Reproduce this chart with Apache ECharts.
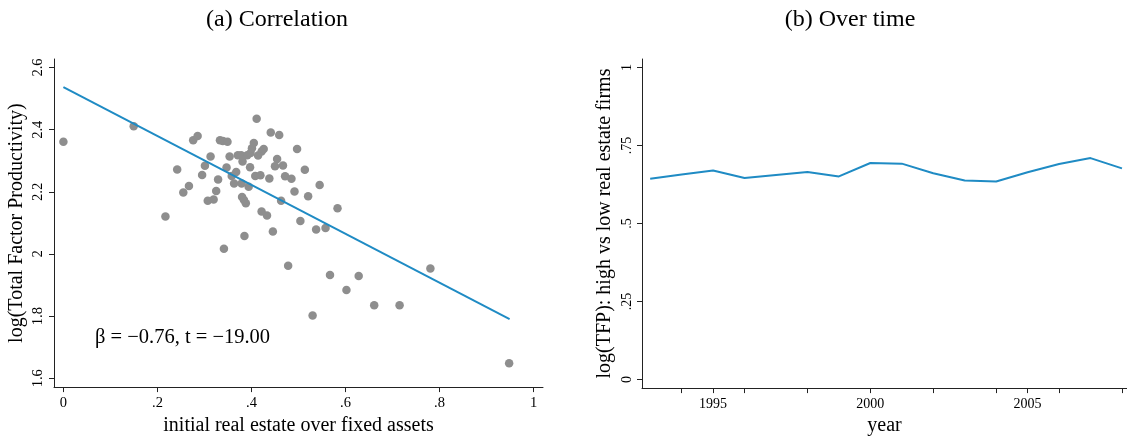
<!DOCTYPE html>
<html>
<head>
<meta charset="utf-8">
<script src="https://cdn.jsdelivr.net/npm/echarts@6/dist/echarts.min.js"></script>
<style>
html,body{margin:0;padding:0;background:#fff;}
#chart{width:1127px;height:441px;}
</style>
</head>
<body>
<div id="chart"></div>
<script>
// ---- Data: panel (a) ----
const shareX = [0, 0.1495, 0.217, 0.242, 0.255, 0.267, 0.276, 0.2855, 0.295, 0.301,
  0.307, 0.313, 0.3195, 0.325, 0.329, 0.333, 0.339, 0.349, 0.347, 0.3535,
  0.358, 0.363, 0.3675, 0.3414, 0.371, 0.378, 0.380, 0.384, 0.388, 0.394,
  0.397, 0.381, 0.379, 0.391, 0.398, 0.401, 0.405, 0.411, 0.441, 0.459,
  0.426, 0.4215, 0.414, 0.497, 0.4545, 0.450, 0.467, 0.5135, 0.408, 0.419,
  0.438, 0.4715, 0.485, 0.545, 0.4915, 0.5205, 0.463, 0.583, 0.4215, 0.433,
  0.504, 0.5375, 0.5575, 0.4455, 0.385, 0.478, 0.567, 0.628, 0.602, 0.530,
  0.661, 0.715, 0.7805, 0.948];
const logTFP = [2.361, 2.411, 2.121, 2.272, 2.198, 2.219, 2.366, 2.380, 2.254, 2.284,
  2.171, 2.314, 2.175, 2.203, 2.240, 2.366, 2.364, 2.361, 2.278, 2.314,
  2.251, 2.227, 2.264, 2.017, 2.318, 2.318, 2.183, 2.174, 2.163, 2.216,
  2.279, 2.298, 2.227, 2.318, 2.325, 2.340, 2.357, 2.435, 2.391, 2.383,
  2.338, 2.330, 2.317, 2.338, 2.306, 2.282, 2.285, 2.271, 2.251, 2.253,
  2.243, 2.250, 2.242, 2.222, 2.201, 2.186, 2.171, 2.147, 2.137, 2.124,
  2.106, 2.079, 2.084, 2.072, 2.058, 1.962, 1.932, 1.929, 1.884, 1.802,
  1.835, 1.835, 1.953, 1.648];
const fitX = [0, 0.949];
const fitY = [2.537, 1.790];
const leftXTicks = [0, 0.2, 0.4, 0.6, 0.8, 1];
const leftYTicks = [1.6, 1.8, 2.0, 2.2, 2.4, 2.6];
const annotation = "\u03B2 = \u22120.76, t = \u221219.00";

// ---- Data: panel (b) ----
const years = [1993, 1994, 1995, 1996, 1997, 1998, 1999, 2000, 2001, 2002, 2003, 2004, 2005, 2006, 2007, 2008];
const tfpGap = [0.6435, 0.657, 0.670, 0.646, 0.656, 0.665, 0.651, 0.694, 0.692, 0.6615, 0.638, 0.635, 0.6646, 0.691, 0.7098, 0.677];
const rightXLabels = [1995, 2000, 2005];
const rightXTicks = [1994, 1995, 1996, 1998, 2000, 2002, 2004, 2005, 2006, 2008];
const rightYTicks = [0, 0.25, 0.5, 0.75, 1];

const FONT = "Liberation Serif";
const AXIS_COLOR = "#222";
const BLUE = "#1f8bc4";
const GRAY = "#8e8e8e";

function fmt(v) {
  let s = String(Math.round(v * 100) / 100);
  if (s.startsWith("0.")) s = s.slice(1);
  return s;
}

const chart = echarts.init(document.getElementById('chart'), null, {renderer: 'canvas'});

const axisLine = {show: true, onZero: false, lineStyle: {color: AXIS_COLOR, width: 1}};
const tickStyle = {lineStyle: {color: AXIS_COLOR, width: 1}, length: 5, inside: false};
const nameStyle = {fontFamily: FONT, fontSize: 20, color: '#000'};

const option = {
  animation: false,
  backgroundColor: '#fff',
  title: [
    {text: '(a) Correlation', left: 272, top: 3, textAlign: 'center',
      textStyle: {fontFamily: FONT, fontSize: 24, fontWeight: 'normal', color: '#000'}},
    {text: '(b) Over time', left: 845, top: 3, textAlign: 'center',
      textStyle: {fontFamily: FONT, fontSize: 24, fontWeight: 'normal', color: '#000'}}
  ],
  grid: [
    {left: 54, top: 59, width: 489, height: 334, containLabel: false},
    {left: 642, top: 59, width: 485, height: 334, containLabel: false}
  ],
  xAxis: [
    {type: 'value', gridIndex: 0, min: -0.02, max: 1.02,
      name: 'initial real estate over fixed assets', nameLocation: 'middle', nameGap: 26,
      nameTextStyle: nameStyle,
      axisLine: axisLine,
      axisTick: Object.assign({customValues: leftXTicks}, tickStyle),
      axisLabel: {customValues: leftXTicks, formatter: fmt, fontFamily: FONT, fontSize: 14.5, color: '#000', margin: 9},
      splitLine: {show: false}},
    {type: 'value', gridIndex: 1, min: 1992.74, max: 2008.16,
      name: 'year', nameLocation: 'middle', nameGap: 26,
      nameTextStyle: nameStyle,
      axisLine: axisLine,
      axisTick: Object.assign({customValues: rightXTicks}, tickStyle),
      axisLabel: {customValues: rightXLabels, formatter: v => String(v), fontFamily: FONT, fontSize: 14, color: '#000', margin: 9},
      splitLine: {show: false}}
  ],
  yAxis: [
    {type: 'value', gridIndex: 0, min: 1.5716, max: 2.6275,
      name: 'log(Total Factor Productivity)', nameLocation: 'middle', nameGap: 27,
      nameTextStyle: nameStyle,
      axisLine: axisLine,
      axisTick: Object.assign({customValues: leftYTicks}, tickStyle),
      axisLabel: {customValues: leftYTicks, formatter: fmt, rotate: 90, fontFamily: FONT, fontSize: 14.5, color: '#000', margin: 8},
      splitLine: {show: false}},
    {type: 'value', gridIndex: 1, min: -0.0275, max: 1.0275,
      name: 'log(TFP): high vs low real estate firms', nameLocation: 'middle', nameGap: 27,
      nameTextStyle: nameStyle,
      axisLine: axisLine,
      axisTick: Object.assign({customValues: rightYTicks}, tickStyle),
      axisLabel: {customValues: rightYTicks, formatter: fmt, rotate: 90, fontFamily: FONT, fontSize: 14, color: '#000', margin: 8},
      splitLine: {show: false}}
  ],
  series: [
    {type: 'scatter', xAxisIndex: 0, yAxisIndex: 0, symbol: 'circle', symbolSize: 8.5,
      itemStyle: {color: GRAY, opacity: 1},
      data: shareX.map((x, i) => [x, logTFP[i]]), z: 2},
    {type: 'line', xAxisIndex: 0, yAxisIndex: 0, showSymbol: false, symbol: 'none',
      lineStyle: {color: BLUE, width: 2}, z: 3,
      data: fitX.map((x, i) => [x, fitY[i]])},
    {type: 'line', xAxisIndex: 1, yAxisIndex: 1, showSymbol: false, symbol: 'none',
      lineStyle: {color: BLUE, width: 2},
      data: years.map((y, i) => [y, tfpGap[i]])}
  ],
  graphic: [
    {type: 'text', left: 95, top: 327,
      style: {text: annotation, font: '20.5px "Liberation Serif"', fill: '#000'}}
  ]
};
chart.setOption(option);
</script>
</body>
</html>
